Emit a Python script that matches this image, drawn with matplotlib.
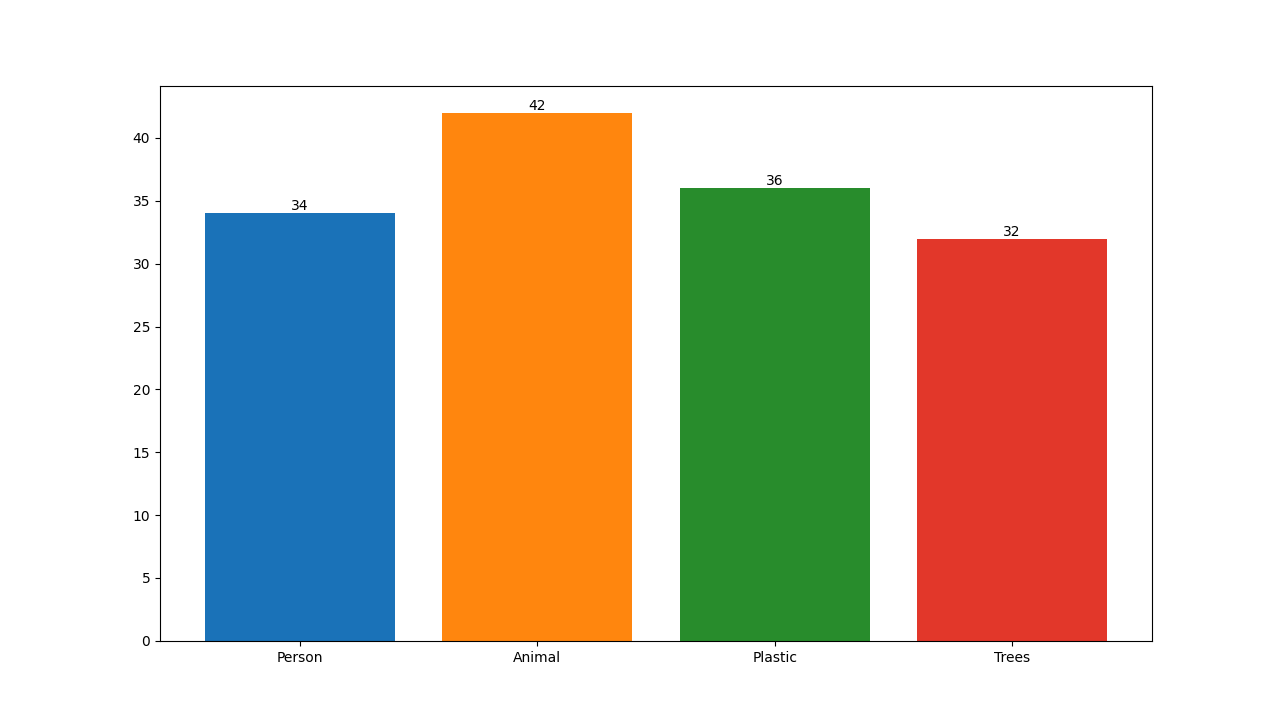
import matplotlib.pyplot as plt

categories = ["Person", "Animal", "Plastic", "Trees"]
counts = [34, 42, 36, 32]
bar_colors = ["#1a72b8", "#ff860e", "#288c2c", "#e2372a"]

fig, ax = plt.subplots(figsize=(12.8, 7.2), dpi=100)
bars = ax.bar(categories, counts, color=bar_colors)
ax.bar_label(bars)

fig.savefig("out.png")
